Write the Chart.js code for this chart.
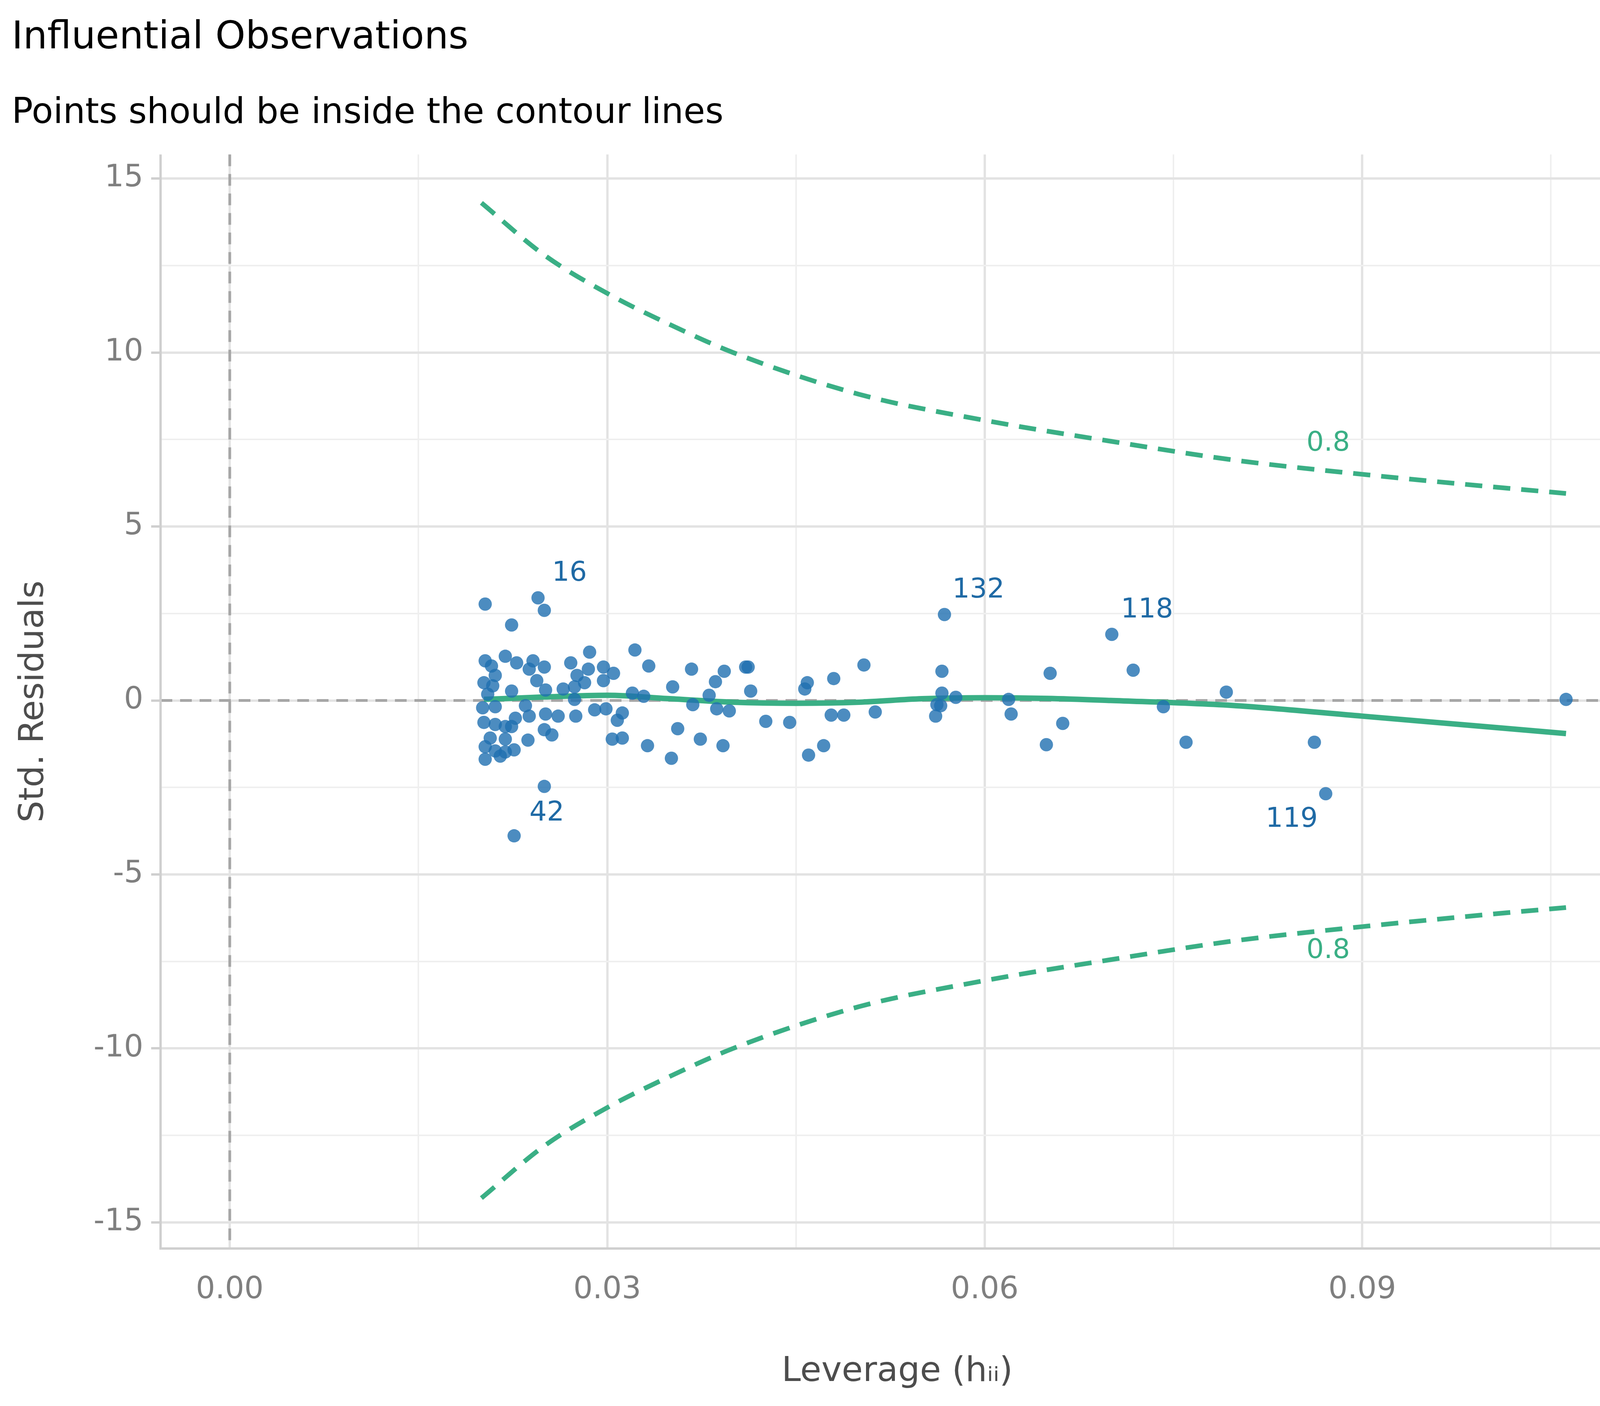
<!DOCTYPE html>
<html><head><meta charset="utf-8">
<script src="https://cdn.jsdelivr.net/npm/chart.js@4"></script>
<style>body{margin:0;background:#fff}#wrap{width:4200px;height:3600px}</style>
</head><body><div id="wrap"><canvas id="c" width="4200" height="3600"></canvas></div>
<script>
// observations (leverage, std. residual)
const lev=[.0203,.0245,.0250,.0224,.0322,.0286,.0219,.0241,.0203,.0228,.0271,.0504,.0333,.0412,.0410,.0208,.0297,.0250,.0367,.0285,.0238,.0393,.0566,.0305,.0652,.0718,.0701,.0568,.0276,.0211,.0386,.0480,.0459,.0297,.0282,.0244,.0202,.0209,.0274,.0352,.0457,.0265,.0224,.0251,.0792,.0320,.0414,.0566,.0577,.0381,.0329,.0205,.1062,.0619,.0274,.0368,.0562,.0235,.0742,.0565,.0211,.0201,.0299,.0387,.0290,.0397,.0513,.0621,.0251,.0275,.0261,.0238,.0312,.0478,.0488,.0561,.0227,.0308,.0202,.0426,.0445,.0662,.0356,.0250,.0211,.0219,.0224,.0256,.0374,.0304,.0312,.0237,.0219,.0207,.0760,.0862,.0392,.0332,.0472,.0649,.0203,.0226,.0211,.0219,.0215,.0460,.0351,.0203,.0250,.0871,.0226];
const res=[2.77,2.95,2.59,2.17,1.45,1.39,1.27,1.14,1.14,1.08,1.08,1.02,.99,.96,.96,.99,.96,.96,.90,.90,.90,.84,.84,.78,.78,.87,1.90,2.47,.72,.72,.54,.63,.51,.57,.51,.57,.51,.42,.39,.39,.33,.33,.27,.30,.24,.21,.27,.21,.09,.15,.12,.18,.03,.03,.03,-.12,-.12,-.15,-.18,-.15,-.18,-.21,-.24,-.24,-.27,-.30,-.33,-.39,-.39,-.45,-.45,-.45,-.36,-.42,-.42,-.45,-.51,-.57,-.63,-.60,-.63,-.66,-.81,-.84,-.69,-.75,-.75,-.99,-1.11,-1.11,-1.08,-1.14,-1.11,-1.08,-1.20,-1.20,-1.30,-1.30,-1.30,-1.27,-1.33,-1.42,-1.45,-1.48,-1.60,-1.57,-1.66,-1.69,-2.47,-2.68,-3.89];
// Cook's distance 0.8 contour
const contourH=[.02,.025,.03,.035,.04,.05,.06,.07,.08,.09,.1,.1062];
const contourY=[14.3,12.8,11.7,10.8,10.0,8.8,8.05,7.45,6.9,6.5,6.15,5.95];
// loess fit
const fitH=[.0202,.025,.03,.035,.04,.045,.05,.055,.06,.065,.07,.08,.09,.1062];
const fitY=[.03,.1,.15,.05,-.05,-.08,-.05,.05,.08,.06,0,-.15,-.45,-.95];
// text labels
const labTxt=["16","132","118","119","42"];
const labX=[.0270,.0595,.0729,.0844,.0252];
const labY=[3.64,3.16,2.59,-3.43,-3.25];
const xTicks=[0,.015,.03,.045,.06,.075,.09,.105];
const yTicks=[-15,-12.5,-10,-7.5,-5,-2.5,0,2.5,5,7.5,10,12.5,15];

const green="#3aaf85", blue="rgba(31,111,176,0.8)";
const isMajX=v=>Math.abs(v/0.03-Math.round(v/0.03))<1e-6;
const extras={id:"extras",
 beforeDatasetsDraw(ch){const c=ch.ctx,x=ch.scales.x,y=ch.scales.y,a=ch.chartArea;
  c.save();c.strokeStyle="#a6a6a6";c.lineWidth=7;c.setLineDash([30,20]);
  c.beginPath();c.moveTo(x.getPixelForValue(0),a.top);c.lineTo(x.getPixelForValue(0),a.bottom);
  c.moveTo(a.left,y.getPixelForValue(0));c.lineTo(a.right,y.getPixelForValue(0));c.stroke();
  c.setLineDash([]);c.strokeStyle="#cfcfcf";c.lineWidth=6;c.beginPath();
  c.moveTo(a.left,a.top);c.lineTo(a.left,a.bottom);c.lineTo(a.right,a.bottom);c.stroke();c.restore();},
 afterDatasetsDraw(ch){const c=ch.ctx,x=ch.scales.x,y=ch.scales.y;
  c.save();c.font="70px 'DejaVu Sans'";c.textAlign="center";c.textBaseline="middle";
  c.fillStyle="#1f6aa5";labTxt.forEach((t,i)=>c.fillText(t,x.getPixelForValue(labX[i]),y.getPixelForValue(labY[i])));
  c.fillStyle=green;c.fillText("0.8",x.getPixelForValue(.0873),y.getPixelForValue(7.38));
  c.fillText("0.8",x.getPixelForValue(.0873),y.getPixelForValue(-7.2));c.restore();}};

new Chart(document.getElementById("c"),{type:"scatter",
 data:{datasets:[
  {data:lev.map((v,i)=>({x:v,y:res[i]})),backgroundColor:blue,borderWidth:0,pointRadius:17},
  {type:"line",data:contourH.map((v,i)=>({x:v,y:contourY[i]})),borderColor:green,borderWidth:12,borderDash:[44,28],pointRadius:0,cubicInterpolationMode:"monotone",fill:false},
  {type:"line",data:contourH.map((v,i)=>({x:v,y:-contourY[i]})),borderColor:green,borderWidth:12,borderDash:[44,28],pointRadius:0,cubicInterpolationMode:"monotone",fill:false},
  {type:"line",data:fitH.map((v,i)=>({x:v,y:fitY[i]})),borderColor:green,borderWidth:14,pointRadius:0,cubicInterpolationMode:"monotone",fill:false}]},
 options:{responsive:false,animation:false,
  layout:{padding:{left:30,right:4,top:10,bottom:30}},
  plugins:{legend:{display:false},tooltip:{enabled:false},
   title:{display:true,text:"Influential Observations",align:"start",color:"#000",font:{family:"DejaVu Sans",size:98,weight:"normal"},padding:{top:30,bottom:80}},
   subtitle:{display:true,text:"Points should be inside the contour lines",align:"start",color:"#000",font:{family:"DejaVu Sans",size:90},padding:{bottom:50}}},
  scales:{
   x:{type:"linear",min:-.0055,max:.1116,afterBuildTicks:s=>{s.ticks=xTicks.map(v=>({value:v}))},
    border:{display:false},
    grid:{color:ctx=>isMajX(ctx.tick.value)?"#e3e3e3":"#efefef",lineWidth:ctx=>isMajX(ctx.tick.value)?6:4,drawTicks:false},
    ticks:{padding:60,color:"#7f7f7f",font:{family:"DejaVu Sans",size:78},maxRotation:0,autoSkip:false,
     callback:v=>isMajX(v)?v.toFixed(2):""},
    title:{display:true,text:"Leverage (hᵢᵢ)",color:"#4d4d4d",font:{family:"DejaVu Sans",size:88},padding:{top:50}}},
   y:{type:"linear",min:-15.75,max:15.69,afterBuildTicks:s=>{s.ticks=yTicks.map(v=>({value:v}))},
    border:{display:false},
    grid:{color:ctx=>ctx.tick.value%5===0?"#e3e3e3":"#efefef",lineWidth:ctx=>ctx.tick.value%5===0?6:4,drawTicks:true,tickLength:24,tickColor:ctx=>ctx.tick.value%5===0?"#cfcfcf":"rgba(0,0,0,0)"},
    ticks:{padding:20,color:"#7f7f7f",font:{family:"DejaVu Sans",size:78},autoSkip:false,callback:v=>v%5===0?String(v):""},
    title:{display:true,text:"Std. Residuals",color:"#4d4d4d",font:{family:"DejaVu Sans",size:88},padding:{bottom:80}}}}},
 plugins:[extras]});
</script></body></html>
